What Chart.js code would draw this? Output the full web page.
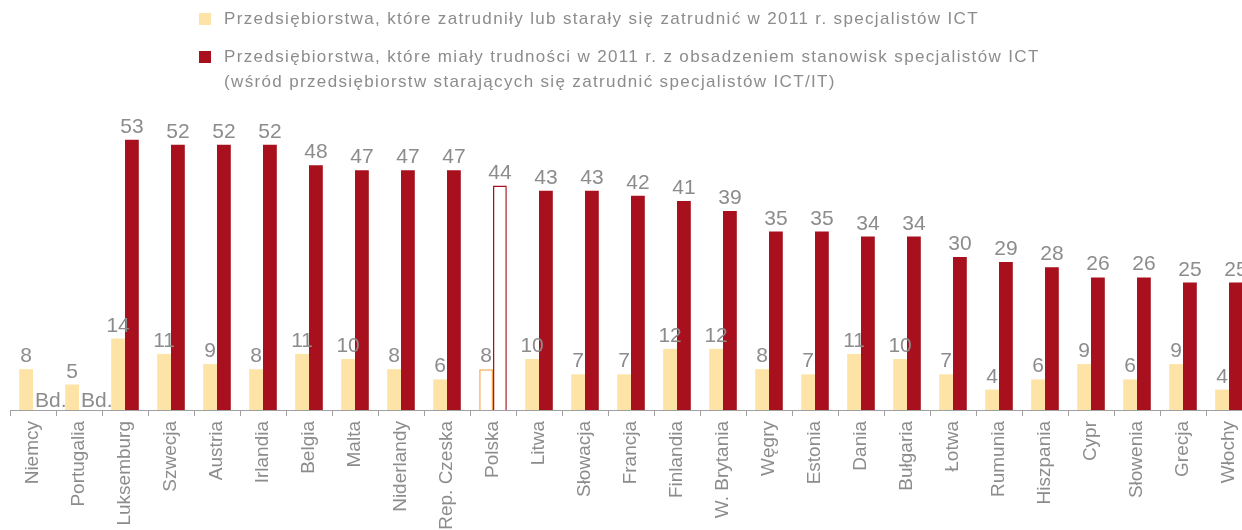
<!DOCTYPE html>
<html lang="pl">
<head>
    <meta charset="UTF-8">
    <title>Specjaliści ICT</title>
    <script src="https://cdn.jsdelivr.net/npm/chart.js@4.4.1/dist/chart.umd.min.js"></script>
	<style>
		body, html {
            margin: 0;
            padding: 0;
            width: 1242px;
            height: 530px;
            overflow: hidden;
            background: #fff;
            font-family: "Liberation Sans", Arial, sans-serif;
        }
        .wrap {
            position: relative;
            width: 1262px;
            height: 530px;
        }
        .legend {
            position: absolute;
            left: 199px;
            top: 6px;
            color: #8c8c8c;
            font-size: 17px;
            letter-spacing: 1.35px;
            line-height: 25px;
        }
        .legend .item {
            position: relative;
            padding-left: 25px;
            margin-bottom: 13px;
        }
        .legend .box {
            position: absolute;
            left: 0;
            top: 7px;
            width: 12px;
            height: 12px;
        }
        canvas {
            display: block;
        }
    </style>
</head>
<body>
    <div class="wrap">
        <canvas id="chart" width="1262" height="530"></canvas>
        <div class="legend">
            <div class="item"><span class="box" style="background:#fde4a6"></span>Przedsiębiorstwa, które zatrudniły lub starały się zatrudnić w 2011 r. specjalistów ICT</div>
            <div class="item"><span class="box" style="background:#a8101e"></span>Przedsiębiorstwa, które miały trudności w 2011 r. z obsadzeniem stanowisk specjalistów ICT<br>(wśród przedsiębiorstw starających się zatrudnić specjalistów ICT/IT)</div>
        </div>
    </div>

    <script>
        const countries = ['Niemcy', 'Portugalia', 'Luksemburg', 'Szwecja', 'Austria', 'Irlandia', 'Belgia', 'Malta',
            'Niderlandy', 'Rep. Czeska', 'Polska', 'Litwa', 'Słowacja', 'Francja', 'Finlandia', 'W. Brytania',
            'Węgry', 'Estonia', 'Dania', 'Bułgaria', 'Łotwa', 'Rumunia', 'Hiszpania', 'Cypr', 'Słowenia',
            'Grecja', 'Włochy'];
        const hired = [8, 5, 14, 11, 9, 8, 11, 10, 8, 6, 8, 10, 7, 7, 12, 12, 8, 7, 11, 10, 7, 4, 6, 9, 6, 9, 4];
        const difficulties = [null, null, 53, 52, 52, 52, 48, 47, 47, 47, 44, 43, 43, 42, 41, 39, 35, 35, 34, 34,
            30, 29, 28, 26, 26, 25, 25];
        const highlight = 'Polska';
        const noDataLabel = 'Bd.';

        const yellow = '#fde4a6';
        const red = '#a8101e';
        const grey = '#8c8c8c';

        const isPL = countries.map(c => c === highlight);

        // podpisy wartości nad słupkami
        const valueLabels = {
            id: 'valueLabels',
            afterDatasetsDraw(chart) {
                const ctx = chart.ctx;
                ctx.save();
                ctx.font = '21px "Liberation Sans", Arial, sans-serif';
                ctx.fillStyle = grey;
                ctx.textBaseline = 'alphabetic';
                const metaY = chart.getDatasetMeta(0);
                const metaR = chart.getDatasetMeta(1);
                countries.forEach((c, i) => {
                    const by = metaY.data[i];
                    ctx.textAlign = 'center';
                    ctx.fillText(String(hired[i]), by.x, by.y - 7);
                    if (difficulties[i] === null) {
                        ctx.textAlign = 'left';
                        ctx.fillText(noDataLabel, by.x + by.width / 2 + 2, chart.chartArea.bottom - 3);
                    } else {
                        const br = metaR.data[i];
                        ctx.textAlign = 'center';
                        ctx.fillText(String(difficulties[i]), br.x, br.y - 7);
                    }
                });
                ctx.restore();
            }
        };

        new Chart(document.getElementById('chart').getContext('2d'), {
            type: 'bar',
            data: {
                labels: countries,
                datasets: [{
                    data: hired,
                    backgroundColor: isPL.map(p => p ? '#ffffff' : yellow),
                    borderColor: '#f5a84a',
                    borderWidth: isPL.map(p => p ? 1.5 : 0),
                    categoryPercentage: 0.6,
                    barPercentage: 1
                }, {
                    data: difficulties,
                    backgroundColor: isPL.map(p => p ? '#ffffff' : red),
                    borderColor: red,
                    borderWidth: isPL.map(p => p ? 1.5 : 0),
                    categoryPercentage: 0.6,
                    barPercentage: 1
                }]
            },
            options: {
                responsive: false,
                animation: false,
                layout: {
                    padding: { left: 10, right: 10, top: 104, bottom: 0 }
                },
                plugins: {
                    legend: { display: false },
                    tooltip: { enabled: false }
                },
                scales: {
                    x: {
                        grid: {
                            drawOnChartArea: false,
                            color: '#a0a0a0',
                            tickLength: 6
                        },
                        border: { color: '#a0a0a0', width: 1 },
                        ticks: {
                            color: grey,
                            font: { size: 19, family: '"Liberation Sans", Arial, sans-serif' },
                            minRotation: 90,
                            maxRotation: 90,
                            autoSkip: false,
                            padding: 5
                        },
                        afterFit(scale) {
                            scale.height = 120;
                        }
                    },
                    y: {
                        display: false,
                        min: 0,
                        max: 60
                    }
                }
            },
            plugins: [valueLabels]
        });
    </script>
</body>
</html>
